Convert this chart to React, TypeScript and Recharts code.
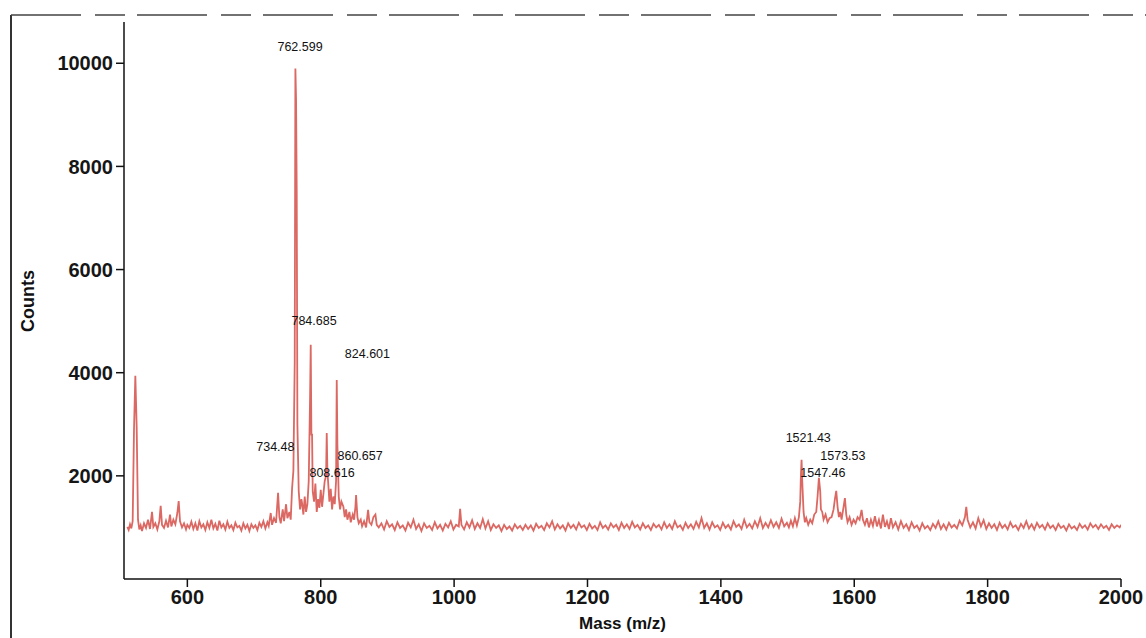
import { LineChart, Line, XAxis, YAxis, ReferenceDot, Label } from "recharts";

// [mass, counts], split by region
const lowMassRegion: [number, number][] = [
  [510, 1010], [512, 950], [514, 1060], [516, 980], [518, 1120], [520, 2900], [522, 3940],
  [524, 2950], [526, 1150], [528, 960], [530, 1040], [532, 930], [535, 1080], [538, 990],
  [541, 1150], [544, 970], [547, 1300], [549, 1010], [552, 1080], [555, 960], [558, 1120],
  [560, 1420], [562, 1050], [565, 990], [568, 1130], [571, 1000], [574, 1250], [576, 1020],
  [579, 1150], [582, 1060], [585, 1280], [587, 1510], [589, 1120], [592, 1000], [595, 1080],
  [598, 960], [600, 1050],
];

const baselineA: [number, number][] = [
  [603, 990], [606, 1110], [609, 970], [612, 1080], [615, 940], [618, 1120], [621, 1000],
  [624, 1060], [627, 950], [630, 1100], [633, 990], [636, 1150], [639, 980], [642, 1070],
  [645, 940], [648, 1130], [651, 1000], [654, 1060], [657, 960], [660, 1110], [663, 990],
  [666, 1040], [669, 950], [672, 1090], [675, 1000], [678, 1030], [681, 940], [684, 1080],
  [687, 980], [690, 1050], [693, 930], [696, 1060], [699, 990], [702, 1040], [705, 950],
  [708, 1090], [711, 1010], [714, 1120], [717, 980], [720, 1100],
];

const lipidRegion: [number, number][] = [
  [722, 1030], [725, 1280], [727, 1050], [730, 1180], [733, 1090], [736, 1670], [738, 1200],
  [740, 1080], [743, 1350], [745, 1120], [748, 1450], [750, 1180], [753, 1300], [755, 1150],
  [757, 1750], [759, 2100], [761, 4200], [762, 9900], [763, 9300], [764, 7500], [765, 3000],
  [767, 1700], [769, 1350], [771, 1550], [772, 1470], [774, 1250], [776, 1600], [778, 1300],
  [780, 1450], [782, 1900], [784, 3500], [785, 4540], [786, 2800], [787, 2800], [788, 1700],
  [790, 1500], [792, 1850], [794, 1300], [796, 1550], [798, 1380], [800, 1730], [802, 1400],
  [804, 1650], [806, 1900], [808, 2000], [809, 2830], [810, 2100], [811, 1900], [813, 1500],
  [815, 1750], [817, 1350], [819, 1600], [821, 1450], [823, 1900], [824, 3860], [825, 2600],
  [827, 1600], [829, 1350], [831, 1500], [834, 1400], [836, 1200], [838, 1350], [840, 1150],
  [843, 1300], [845, 1100], [848, 1250], [850, 1150], [852, 1400], [853, 1630], [855, 1200],
  [857, 1080], [860, 1150], [862, 1020], [865, 1120], [868, 1000], [871, 1340], [873, 1100],
  [876, 1050], [879, 1200], [882, 1250], [884, 1050],
];

const midRegion: [number, number][] = [
  [887, 1000], [891, 1080], [895, 960], [899, 1120], [903, 1010], [907, 1060], [911, 950],
  [915, 1100], [919, 990], [923, 1040], [927, 940], [931, 1090], [935, 1000], [939, 1150],
  [943, 970], [947, 1060], [951, 930], [955, 1080], [959, 990], [963, 1030], [967, 950],
  [971, 1100], [975, 980], [979, 1050], [983, 940], [987, 1070], [991, 1000], [995, 1120],
  [999, 960], [1003, 1050], [1007, 1020], [1009, 1360], [1011, 1050], [1015, 960], [1019, 1100],
  [1023, 1000], [1027, 1140], [1031, 970], [1035, 1080], [1039, 990], [1043, 1160], [1047, 980],
  [1051, 1120], [1055, 950], [1059, 1060], [1063, 990], [1067, 1040], [1071, 930], [1075, 1050],
  [1079, 970], [1083, 1020], [1087, 940], [1091, 1060], [1095, 980], [1099, 1030], [1103, 950],
  [1107, 1050], [1111, 970], [1115, 1040], [1119, 940], [1123, 1070], [1127, 990], [1131, 1030],
  [1135, 950], [1139, 1080], [1143, 1000], [1147, 1120], [1151, 960], [1155, 1060], [1159, 980],
  [1163, 1040], [1167, 940], [1171, 1080], [1175, 990], [1179, 1050], [1183, 960], [1187, 1090],
  [1191, 1000], [1195, 1040], [1199, 950], [1203, 1070], [1207, 980], [1211, 1030], [1215, 950],
  [1219, 1100], [1223, 990], [1227, 1040], [1231, 960], [1235, 1080], [1239, 1000], [1243, 1050],
  [1247, 950], [1251, 1090], [1255, 990], [1259, 1060], [1263, 970], [1267, 1110], [1271, 1000],
  [1275, 1050], [1279, 960], [1283, 1080], [1287, 990], [1291, 1040], [1295, 950], [1299, 1070],
  [1303, 1000], [1307, 1050], [1311, 960], [1315, 1100], [1319, 990], [1323, 1060], [1327, 970],
  [1331, 1120], [1335, 1000], [1339, 1040], [1343, 950], [1347, 1090], [1351, 990], [1355, 1060],
  [1359, 970], [1363, 1110], [1367, 1000], [1371, 1180], [1375, 990], [1379, 1080], [1383, 960],
  [1387, 1100], [1391, 1000], [1395, 1040], [1399, 950], [1403, 1090], [1407, 990], [1411, 1050],
  [1415, 960], [1419, 1120], [1423, 1010], [1427, 1060], [1431, 970], [1435, 1150], [1439, 1000],
  [1443, 1070], [1447, 980], [1451, 1120], [1455, 1010], [1459, 1180], [1463, 990], [1467, 1090],
  [1471, 1000], [1475, 1140], [1479, 1010], [1483, 1100], [1487, 990], [1491, 1170], [1495, 1020],
  [1499, 1090],
];

const highRegion: [number, number][] = [
  [1502, 1000], [1505, 1130], [1508, 1020], [1511, 1180], [1514, 1040], [1517, 1200], [1519, 1500],
  [1520, 2000], [1521, 2310], [1522, 1900], [1524, 1300], [1526, 1100], [1528, 1180], [1531, 1050],
  [1534, 1150], [1537, 1080], [1540, 1250], [1543, 1300], [1545, 1600], [1547, 1960], [1549, 1700],
  [1550, 1350], [1552, 1300], [1554, 1150], [1557, 1250], [1560, 1100], [1563, 1180], [1566, 1200],
  [1569, 1350], [1571, 1550], [1573, 1710], [1575, 1400], [1577, 1200], [1579, 1300], [1581, 1150],
  [1584, 1400], [1586, 1570], [1588, 1250], [1590, 1100], [1593, 1200], [1596, 1050], [1599, 1150],
  [1602, 1080], [1605, 1200], [1608, 1150], [1611, 1340], [1613, 1150], [1616, 1050], [1619, 1180],
  [1622, 1000], [1625, 1150], [1628, 1030], [1631, 1220], [1634, 1020], [1637, 1150], [1640, 980],
  [1643, 1250], [1646, 1010], [1649, 1120], [1652, 970], [1655, 1180], [1658, 1000],
];

const tailRegion: [number, number][] = [
  [1662, 1100], [1666, 960], [1670, 1120], [1674, 990], [1678, 1060], [1682, 950], [1686, 1100],
  [1690, 990], [1694, 1040], [1698, 940], [1702, 1080], [1706, 980], [1710, 1030], [1714, 950],
  [1718, 1070], [1722, 990], [1726, 1120], [1730, 970], [1734, 1060], [1738, 960], [1742, 1090],
  [1746, 1000], [1750, 1050], [1754, 980], [1758, 1130], [1762, 1040], [1766, 1200], [1768, 1400],
  [1770, 1150], [1774, 1000], [1778, 1100], [1782, 980], [1786, 1180], [1790, 1020], [1794, 1140],
  [1798, 970], [1802, 1080], [1806, 990], [1810, 1060], [1814, 950], [1818, 1090], [1822, 990],
  [1826, 1050], [1830, 960], [1834, 1100], [1838, 1000], [1842, 1040], [1846, 950], [1850, 1070],
  [1854, 990], [1858, 1120], [1862, 980], [1866, 1060], [1870, 960], [1874, 1090], [1878, 1000],
  [1882, 1050], [1886, 960], [1890, 1080], [1894, 990], [1898, 1040], [1902, 950], [1906, 1070],
  [1910, 990], [1914, 1030], [1918, 940], [1922, 1060], [1926, 980], [1930, 1020], [1934, 950],
  [1938, 1070], [1942, 990], [1946, 1040], [1950, 960], [1954, 1080], [1958, 1000], [1962, 1050],
  [1966, 970], [1970, 1060], [1974, 990], [1978, 1030], [1982, 950], [1986, 1060], [1990, 990],
  [1994, 1040], [1998, 1000], [2000, 1050],
];

// peak annotations: text and where its centre sits (mass, counts)
const peakLabels: { text: string; mass: number; counts: number }[] = [
  { text: "762.599", mass: 769, counts: 10330 },
  { text: "784.685", mass: 790, counts: 5010 },
  { text: "824.601", mass: 870, counts: 4370 },
  { text: "734.48", mass: 732, counts: 2560 },
  { text: "808.616", mass: 817, counts: 2060 },
  { text: "860.657", mass: 859, counts: 2390 },
  { text: "1521.43", mass: 1531, counts: 2740 },
  { text: "1573.53", mass: 1583, counts: 2390 },
  { text: "1547.46", mass: 1553, counts: 2060 },
];

const xTicks = [600, 800, 1000, 1200, 1400, 1600, 1800, 2000];
const yTicks = [2000, 4000, 6000, 8000, 10000];

const spectrum = [
  ...lowMassRegion,
  ...baselineA,
  ...lipidRegion,
  ...midRegion,
  ...highRegion,
  ...tailRegion,
].map(([mass, counts]) => ({ mass, counts }));

const tickStyle = {
  fontFamily: "Liberation Sans, Arial, sans-serif",
  fontSize: 20,
  fontWeight: 600,
  fill: "#161616",
};

export default function App() {
  return (
    <div
      style={{
        position: "absolute",
        left: 0,
        top: 0,
        width: 1146,
        height: 638,
        background: "#fff",
        fontFamily: "Liberation Sans, Arial, sans-serif",
      }}
    >
      <svg
        width={1146}
        height={638}
        style={{ position: "absolute", left: 0, top: 0 }}
      >
        <line x1={11} y1={15} x2={11} y2={638} stroke="#333" strokeWidth={2} />
        <line
          x1={11}
          y1={15}
          x2={1146}
          y2={15}
          stroke="#444"
          strokeWidth={1.5}
          strokeDasharray="70 14 30 12"
        />
      </svg>
      <div style={{ position: "absolute", left: 0, top: 0 }}>
        <LineChart
          width={1146}
          height={638}
          data={spectrum}
          margin={{ top: 22, right: 25, bottom: 29, left: 64 }}
        >
          <XAxis
            dataKey="mass"
            type="number"
            domain={[505, 2000]}
            ticks={xTicks}
            allowDataOverflow
            height={30}
            tickSize={8}
            tickMargin={3}
            tick={tickStyle}
            stroke="#111"
            strokeWidth={1.5}
          >
            <Label
              value="Mass (m/z)"
              position="insideBottom"
              offset={-20}
              style={{ fontSize: 17, fontWeight: 700, fill: "#111" }}
            />
          </XAxis>
          <YAxis
            type="number"
            domain={[0, 10800]}
            ticks={yTicks}
            width={60}
            tickSize={8}
            tickMargin={3}
            tick={tickStyle}
            stroke="#111"
            strokeWidth={1.5}
          />
          <Line
            type="linear"
            dataKey="counts"
            stroke="#db6862"
            strokeWidth={1.8}
            dot={false}
            isAnimationActive={false}
          />
          {peakLabels.map((p) => (
            <ReferenceDot
              key={p.text}
              x={p.mass}
              y={p.counts}
              r={0}
              ifOverflow="visible"
              label={{
                value: p.text,
                position: "center",
                style: { fontSize: 12.5, fill: "#111" },
              }}
            />
          ))}
        </LineChart>
      </div>
      <div
        style={{
          position: "absolute",
          left: 28,
          top: 301,
          transform: "translate(-50%, -50%) rotate(-90deg)",
          fontSize: 18,
          fontWeight: 700,
          color: "#111",
        }}
      >
        Counts
      </div>
    </div>
  );
}
